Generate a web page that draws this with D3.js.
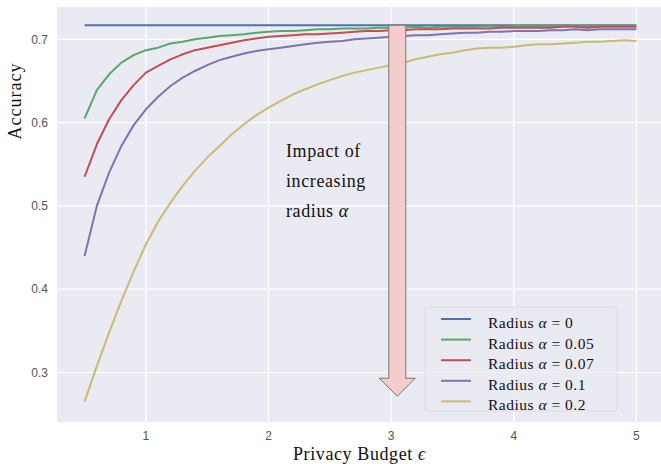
<!DOCTYPE html>
<html>
<head>
<meta charset="utf-8">
<script src="https://cdn.jsdelivr.net/npm/d3@7"></script>
<style>
  html, body { margin: 0; padding: 0; background: #fff; }
  svg { display: block; }
  .tick-label { font-family: "Liberation Sans", Arial, sans-serif; font-size: 12px; fill: #555; }
  .serif { font-family: "Liberation Serif", "DejaVu Serif", serif; fill: #111; }
</style>
</head>
<body>
<svg id="chart" width="661" height="464"></svg>
<script>
// ============ Data ============
const EPS = [0.5, 0.6, 0.7, 0.8, 0.9, 1.0, 1.1, 1.2, 1.3, 1.4, 1.5, 1.6, 1.7, 1.8, 1.9,
  2.0, 2.1, 2.2, 2.3, 2.4, 2.5, 2.6, 2.7, 2.8, 2.9, 3.0, 3.1, 3.2, 3.3, 3.4, 3.5,
  3.6, 3.7, 3.8, 3.9, 4.0, 4.1, 4.2, 4.3, 4.4, 4.5, 4.6, 4.7, 4.8, 4.9, 5.0];

const ACC_R0 = [0.717, 0.717];   // flat baseline, drawn at first and last epsilon
const ACC_R005 = [0.605, 0.639, 0.658, 0.672, 0.681, 0.687, 0.690, 0.695, 0.697, 0.700,
  0.702, 0.704, 0.705, 0.706, 0.708, 0.709, 0.710, 0.710, 0.711, 0.712, 0.712, 0.713,
  0.713, 0.713, 0.714, 0.714, 0.714, 0.715, 0.714, 0.715, 0.715, 0.715, 0.715, 0.716,
  0.715, 0.716, 0.716, 0.716, 0.716, 0.716, 0.716, 0.716, 0.716, 0.716, 0.716, 0.716];
const ACC_R007 = [0.535, 0.574, 0.604, 0.627, 0.645, 0.660, 0.668, 0.676, 0.682, 0.687,
  0.690, 0.693, 0.696, 0.699, 0.701, 0.703, 0.704, 0.705, 0.706, 0.706, 0.707, 0.708,
  0.709, 0.710, 0.710, 0.711, 0.711, 0.712, 0.712, 0.712, 0.713, 0.713, 0.713, 0.713,
  0.714, 0.714, 0.714, 0.714, 0.714, 0.715, 0.715, 0.714, 0.715, 0.715, 0.715, 0.715];
const ACC_R01 = [0.440, 0.500, 0.540, 0.572, 0.597, 0.616, 0.631, 0.644, 0.654, 0.662,
  0.669, 0.675, 0.679, 0.683, 0.686, 0.688, 0.690, 0.692, 0.694, 0.696, 0.697, 0.698,
  0.700, 0.701, 0.702, 0.703, 0.704, 0.705, 0.705, 0.706, 0.707, 0.708, 0.708, 0.709,
  0.709, 0.710, 0.710, 0.710, 0.711, 0.711, 0.712, 0.711, 0.712, 0.712, 0.712, 0.712];
const ACC_R02 = [0.265, 0.308, 0.348, 0.386, 0.421, 0.454, 0.481, 0.504, 0.524, 0.542,
  0.558, 0.572, 0.586, 0.598, 0.609, 0.618, 0.626, 0.634, 0.640, 0.646, 0.651, 0.656,
  0.660, 0.663, 0.666, 0.669, 0.672, 0.676, 0.679, 0.682, 0.684, 0.687, 0.689, 0.690,
  0.690, 0.691, 0.693, 0.694, 0.694, 0.695, 0.696, 0.697, 0.697, 0.698, 0.699, 0.698];

const SERIES_LABELS = ["0", "0.05", "0.07", "0.1", "0.2"];
const SERIES_COLORS = ["#4C72B0", "#55A868", "#C44E52", "#8172B2", "#CCB974"];
const X_TICKS = [1, 2, 3, 4, 5];
const Y_TICKS = [0.3, 0.4, 0.5, 0.6, 0.7];
const ARROW_EPS = 3.05, ARROW_FROM = 0.717, ARROW_TO = 0.2715;

// ============ Layout ============
const PLOT = { left: 57, top: 7, right: 664, bottom: 422 };

const svg = d3.select("#chart");
const x = d3.scaleLinear().domain([0.275, 5.225]).range([PLOT.left, PLOT.right]);
const y = d3.scaleLinear().domain([0.2406, 0.7388]).range([PLOT.bottom, PLOT.top]);

svg.append("rect")
  .attr("x", PLOT.left).attr("y", PLOT.top)
  .attr("width", PLOT.right - PLOT.left).attr("height", PLOT.bottom - PLOT.top)
  .attr("fill", "#EAEAF2");

// ---- Grid ----
const grid = svg.append("g").attr("stroke", "#fff").attr("stroke-width", 1.2);
grid.selectAll("line.gx").data(X_TICKS).enter().append("line")
  .attr("x1", d => x(d)).attr("x2", d => x(d))
  .attr("y1", PLOT.top).attr("y2", PLOT.bottom);
grid.selectAll("line.gy").data(Y_TICKS).enter().append("line")
  .attr("y1", d => y(d)).attr("y2", d => y(d))
  .attr("x1", PLOT.left).attr("x2", PLOT.right);

// ---- Tick labels ----
svg.append("g").selectAll("text").data(X_TICKS).enter().append("text")
  .attr("class", "tick-label")
  .attr("x", d => x(d)).attr("y", 440)
  .attr("text-anchor", "middle")
  .text(d => d);
svg.append("g").selectAll("text").data(Y_TICKS).enter().append("text")
  .attr("class", "tick-label")
  .attr("x", 48).attr("y", d => y(d)).attr("dy", "0.35em")
  .attr("text-anchor", "end")
  .text(d => d.toFixed(1));

// ---- Lines ----
const series = [
  [EPS[0], EPS[EPS.length - 1]].map((e, i) => [e, ACC_R0[i]]),
  EPS.map((e, i) => [e, ACC_R005[i]]),
  EPS.map((e, i) => [e, ACC_R007[i]]),
  EPS.map((e, i) => [e, ACC_R01[i]]),
  EPS.map((e, i) => [e, ACC_R02[i]])
];
const line = d3.line().x(d => x(d[0])).y(d => y(d[1]));
svg.append("g").selectAll("path").data(series).enter().append("path")
  .attr("d", line)
  .attr("fill", "none")
  .attr("stroke", (d, i) => SERIES_COLORS[i])
  .attr("stroke-width", 2)
  .attr("stroke-linejoin", "round");

// ---- Arrow ----
const ax = x(ARROW_EPS), ay0 = y(ARROW_FROM), ay1 = y(ARROW_TO);
const shaftHalf = 8.5, headHalf = 18, headLen = 18;
svg.append("path")
  .attr("d", [
    "M", ax - shaftHalf, ay0,
    "L", ax + shaftHalf, ay0,
    "L", ax + shaftHalf, ay1 - headLen,
    "L", ax + headHalf, ay1 - headLen,
    "L", ax, ay1,
    "L", ax - headHalf, ay1 - headLen,
    "L", ax - shaftHalf, ay1 - headLen,
    "Z"].join(" "))
  .attr("fill", "#F4CCCC")
  .attr("stroke", "#777")
  .attr("stroke-width", 1);

const note = svg.append("text").attr("class", "serif")
  .attr("font-size", 18).attr("letter-spacing", 0.6);
["Impact of", "increasing"].forEach((t, i) => {
  note.append("tspan").attr("x", 286).attr("y", 157 + i * 30).text(t);
});
note.append("tspan").attr("x", 286).attr("y", 217).text("radius ");
note.append("tspan").attr("font-style", "italic").text("α");

// ---- Axis titles ----
svg.append("text").attr("class", "serif")
  .attr("font-size", 18).attr("letter-spacing", 1)
  .attr("text-anchor", "middle")
  .attr("transform", "translate(21,101) rotate(-90)")
  .text("Accuracy");
const xt = svg.append("text").attr("class", "serif")
  .attr("font-size", 18).attr("letter-spacing", 0.6)
  .attr("x", 293).attr("y", 460);
xt.append("tspan").text("Privacy Budget ");
xt.append("tspan").attr("font-style", "italic").text("ϵ");

// ---- Legend ----
const legend = svg.append("g");
legend.append("rect")
  .attr("x", 425).attr("y", 307).attr("width", 192).attr("height", 104).attr("rx", 3)
  .attr("fill", "#EAEAF2").attr("fill-opacity", 0.8)
  .attr("stroke", "#dcdce6").attr("stroke-width", 1);
const rows = legend.selectAll("g.row").data(SERIES_LABELS).enter().append("g")
  .attr("transform", (d, i) => `translate(0,${319 + i * 20.6})`);
rows.append("line")
  .attr("x1", 441).attr("x2", 471)
  .attr("stroke", (d, i) => SERIES_COLORS[i])
  .attr("stroke-width", 2);
const lt = rows.append("text").attr("class", "serif")
  .attr("font-size", 15.5).attr("letter-spacing", 0.5)
  .attr("x", 488).attr("y", 9);
lt.append("tspan").text("Radius ");
lt.append("tspan").attr("font-style", "italic").text("α");
lt.append("tspan").text(d => " = " + d);
</script>
</body>
</html>
